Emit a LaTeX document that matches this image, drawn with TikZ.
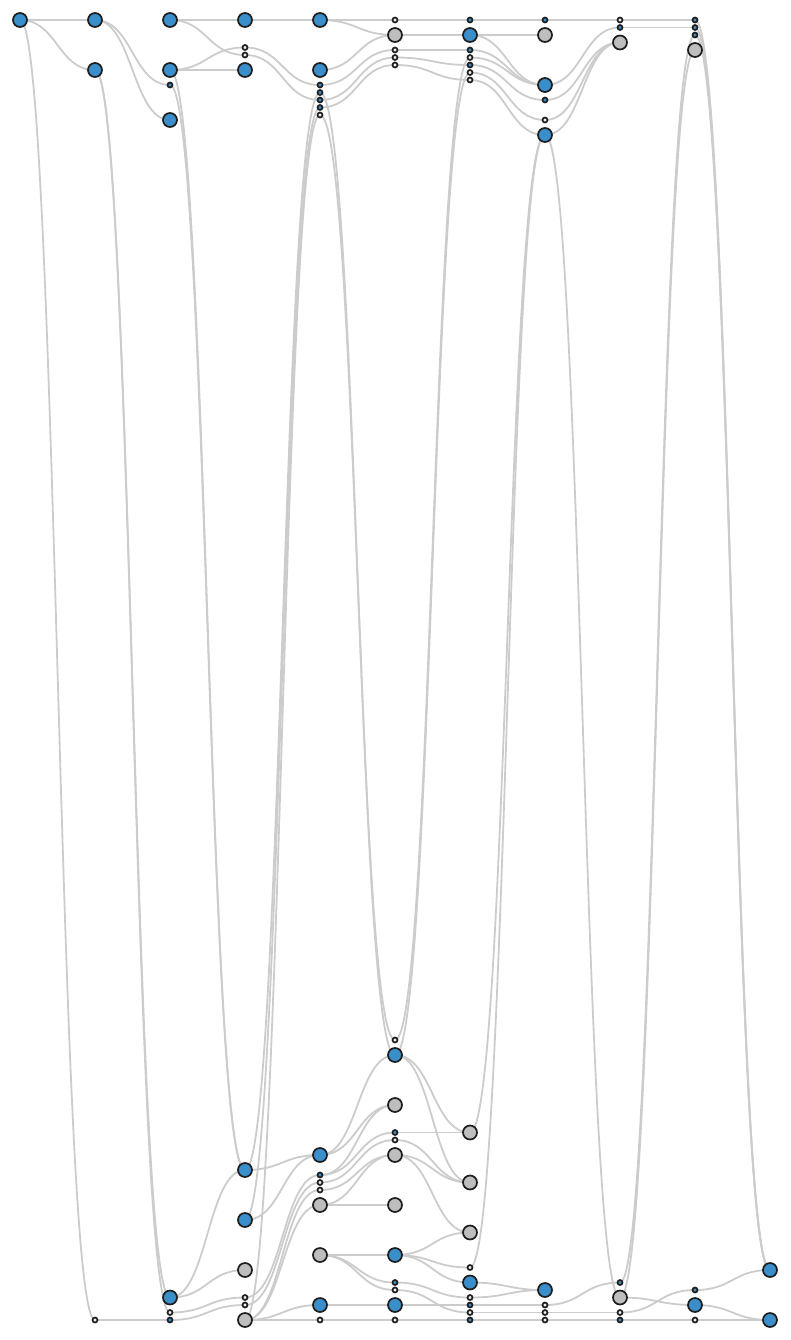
\documentclass[tikz,border=0pt]{standalone}
\usepackage{xcolor}
\usepackage{tikz}
\usetikzlibrary{backgrounds}
\definecolor{ndBlue}{RGB}{58, 143, 203}
\definecolor{ndGray}{RGB}{190, 190, 190}
\definecolor{ndLine}{RGB}{30, 30, 30}
\definecolor{ndPale}{RGB}{240, 240, 240}
\definecolor{lkGray}{RGB}{204, 204, 204}
\tikzset{
    base/.style={
        circle,
        draw=ndLine,
        line width=1.7pt,
        inner sep=0pt
    },
    hubBlue/.style={
        base,
        fill=ndBlue,
        minimum size=14pt
    },
    hubGray/.style={
        base,
        fill=ndGray,
        minimum size=14pt
    },
    dotBlue/.style={
        base,
        fill=ndBlue,
        minimum size=5pt
    },
    dotWhite/.style={
        base,
        fill=ndPale,
        minimum size=5pt
    },
    flowline/.style={
        draw=lkGray,
        line width=1.8pt
    }
}

\begin{document}
\begin{tikzpicture}[x=1pt, y=-1pt]
    \useasboundingbox (0,0) rectangle (790,1340);

    % Nodes: column / name / y / style
    \foreach \c/\n/\y/\s in {
        0/20/20/hubBlue,
        1/20/20/hubBlue, 1/70/70/hubBlue, 1/1320/1320/dotWhite,
        2/20/20/hubBlue, 2/70/70/hubBlue, 2/85/85/dotBlue, 2/120/120/hubBlue,
        2/1297/1297.5/hubBlue, 2/1312/1312.5/dotWhite, 2/1320/1320/dotBlue,
        3/20/20/hubBlue, 3/47/47.5/dotWhite, 3/55/55/dotWhite, 3/70/70/hubBlue,
        3/1170/1170/hubBlue, 3/1220/1220/hubBlue, 3/1270/1270/hubGray,
        3/1297/1297.5/dotWhite, 3/1305/1305/dotWhite, 3/1320/1320/hubGray,
        4/20/20/hubBlue, 4/70/70/hubBlue, 4/85/85/dotBlue, 4/92/92.5/dotBlue,
        4/100/100/dotBlue, 4/107/107.5/dotBlue, 4/115/115/dotWhite,
        4/1155/1155/hubBlue, 4/1175/1175/dotBlue, 4/1182/1182.5/dotWhite,
        4/1190/1190/dotWhite, 4/1205/1205/hubGray, 4/1255/1255/hubGray,
        4/1305/1305/hubBlue, 4/1320/1320/dotWhite,
        5/20/20/dotWhite, 5/35/35/hubGray, 5/50/50/dotWhite, 5/57/57.5/dotWhite,
        5/65/65/dotWhite, 5/1040/1040/dotWhite, 5/1055/1055/hubBlue,
        5/1105/1105/hubGray, 5/1132/1132.5/dotBlue, 5/1140/1140/dotWhite,
        5/1155/1155/hubGray, 5/1205/1205/hubGray, 5/1255/1255/hubBlue,
        5/1282/1282.5/dotBlue, 5/1290/1290/dotWhite, 5/1305/1305/hubBlue,
        5/1320/1320/dotWhite,
        6/20/20/dotBlue, 6/35/35/hubBlue, 6/50/50/dotBlue, 6/57/57.5/dotWhite,
        6/65/65/dotBlue, 6/72/72.5/dotWhite, 6/80/80/dotWhite,
        6/1132/1132.5/hubGray, 6/1182/1182.5/hubGray, 6/1232/1232.5/hubGray,
        6/1267/1267.5/dotWhite, 6/1282/1282.5/hubBlue, 6/1297/1297.5/dotWhite,
        6/1305/1305/dotBlue, 6/1312/1312.5/dotWhite, 6/1320/1320/dotBlue,
        7/20/20/dotBlue, 7/35/35/hubGray, 7/85/85/hubBlue, 7/100/100/dotBlue,
        7/120/120/dotWhite, 7/135/135/hubBlue, 7/1290/1290/hubBlue,
        7/1305/1305/dotWhite, 7/1312/1312.5/dotWhite, 7/1320/1320/dotWhite,
        8/20/20/dotWhite, 8/27/27.5/dotBlue, 8/42/42.5/hubGray,
        8/1282/1282.5/dotBlue, 8/1297/1297.5/hubGray, 8/1312/1312.5/dotWhite,
        8/1320/1320/dotBlue,
        9/20/20/dotBlue, 9/27/27.5/dotBlue, 9/35/35/dotBlue, 9/50/50/hubGray,
        9/1290/1290/dotBlue, 9/1305/1305/hubBlue, 9/1320/1320/dotWhite,
        10/1270/1270/hubBlue, 10/1320/1320/hubBlue}
        \node[\s] (n\c-\n) at ({20+75*\c}, \y) {};

    % Links between neighbouring columns
    \begin{scope}[on background layer]
        \foreach \a/\b in {
            0-20/1-20, 0-20/1-70, 0-20/1-1320,
            1-20/2-85, 1-20/2-120, 1-70/2-1297, 1-70/2-1312, 1-1320/2-1320,
            2-20/3-20, 2-20/3-55, 2-70/3-47, 2-70/3-70, 2-70/3-1170, 2-85/3-1170,
            2-1297/3-1170, 2-1297/3-1270, 2-1312/3-1297, 2-1320/3-1305,
            3-20/4-20, 3-47/4-85, 3-55/4-100, 3-1170/4-92, 3-1220/4-107,
            3-1320/4-115, 3-1170/4-1155, 3-1220/4-1155, 3-1297/4-1175,
            3-1305/4-1182, 3-1320/4-1190, 3-1320/4-1205, 3-1320/4-1305,
            3-1320/4-1320,
            4-20/5-20, 4-20/5-35, 4-70/5-35, 4-85/5-50, 4-100/5-57, 4-107/5-65,
            4-92/5-1055, 4-115/5-1040, 4-1155/5-1055, 4-1155/5-1105,
            4-1175/5-1105, 4-1175/5-1132, 4-1182/5-1140, 4-1190/5-1155,
            4-1205/5-1155, 4-1205/5-1205, 4-1255/5-1255, 4-1255/5-1282,
            4-1255/5-1290, 4-1305/5-1305, 4-1320/5-1320,
            5-20/6-20, 5-35/6-35, 5-50/6-50, 5-57/6-65, 5-65/6-80, 5-1040/6-57,
            5-1055/6-72, 5-1055/6-1132, 5-1055/6-1182, 5-1132/6-1132,
            5-1140/6-1182, 5-1155/6-1182, 5-1155/6-1232, 5-1255/6-1232,
            5-1255/6-1267, 5-1255/6-1282, 5-1282/6-1297, 5-1290/6-1312,
            5-1305/6-1305, 5-1320/6-1320,
            6-20/7-20, 6-35/7-35, 6-35/7-85, 6-50/7-85, 6-57/7-85, 6-65/7-100,
            6-72/7-120, 6-80/7-135, 6-1132/7-135, 6-1267/7-135, 6-1282/7-1290,
            6-1297/7-1290, 6-1305/7-1305, 6-1312/7-1312, 6-1320/7-1320,
            7-20/8-20, 7-85/8-27, 7-100/8-42, 7-120/8-42, 7-135/8-42,
            7-135/8-1297, 7-1305/8-1282, 7-1312/8-1312, 7-1320/8-1320,
            8-20/9-20, 8-27/9-27, 8-1282/9-35, 8-1297/9-50, 8-1297/9-1305,
            8-1312/9-1290, 8-1320/9-1320,
            9-20/10-1270, 9-27/10-1270, 9-35/10-1270, 9-1290/10-1270,
            9-1305/10-1320, 9-1320/10-1320}
            \draw[flowline] (n\a.center) .. controls +(37.5,0) and +(-37.5,0) .. (n\b.center);
    \end{scope}
\end{tikzpicture}
\end{document}
